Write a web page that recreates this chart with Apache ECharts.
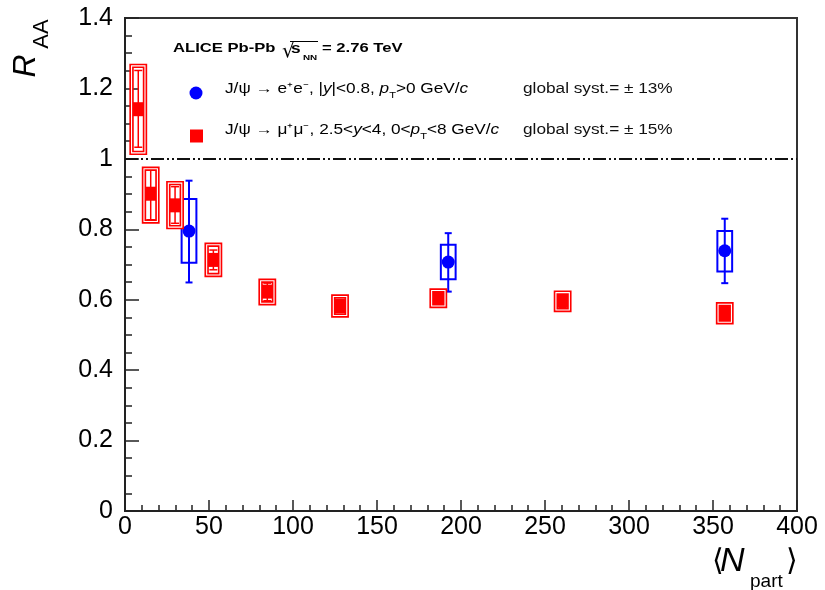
<!DOCTYPE html>
<html><head><meta charset="utf-8">
<script src="https://cdn.jsdelivr.net/npm/echarts@6/dist/echarts.min.js"></script>
<style>html,body{margin:0;padding:0;background:#fff}#c{width:825px;height:590px}</style>
</head><body><div id="c"></div>
<script>
// J/psi -> mu+mu- (forward rapidity)
const muNpart  = [7.9, 15.3, 29.8, 52.6, 84.7, 128.0, 186.5, 260.5, 357.0];
const muRaa    = [1.141, 0.901, 0.868, 0.713, 0.623, 0.582, 0.604, 0.597, 0.562];
const muStatLo = [1.033, 0.827, 0.817, 0.685, 0.597, 0.566, 0.587, 0.578, 0.543];
const muStatHi = [1.251, 0.971, 0.921, 0.741, 0.647, 0.599, 0.621, 0.616, 0.581];
const muSysLo  = [1.017, 0.822, 0.806, 0.670, 0.590, 0.555, 0.582, 0.571, 0.536];
const muSysHi  = [1.264, 0.972, 0.931, 0.756, 0.654, 0.609, 0.626, 0.620, 0.587];
// J/psi -> e+e- (mid rapidity)
const eeNpart  = [38.1, 192.4, 357.0];
const eeRaa    = [0.795, 0.707, 0.739];
const eeStatLo = [0.649, 0.623, 0.647];
const eeStatHi = [0.938, 0.789, 0.830];
const eeSysLo  = [0.705, 0.658, 0.680];
const eeSysHi  = [0.886, 0.756, 0.795];
// axes
const xTicks = [0, 50, 100, 150, 200, 250, 300, 350, 400];
const yTicks = [0, 0.2, 0.4, 0.6, 0.8, 1, 1.2, 1.4];
const refLevel = 1;

const RED = '#ff0000', BLUE = '#0000ff';
const FONT = '"Liberation Sans", Arial, Helvetica, sans-serif';
const SX = 1.23; // legend text is rendered wide in the reference

function zip(...arrs){ return arrs[0].map((_, i) => arrs.map(a => a[i])); }

function sysBox(color, halfW, dbl){
  return function(params, api){
    const x = api.value(0), lo = api.value(1), hi = api.value(2);
    const p1 = api.coord([x - halfW, hi]), p2 = api.coord([x + halfW, lo]);
    const shape = {x: p1[0], y: p1[1], width: p2[0] - p1[0], height: p2[1] - p1[1]};
    if (dbl) {
      return {type: 'group', children: [
        {type: 'rect', shape: shape, style: {fill: 'none', stroke: color, lineWidth: 4.4}},
        {type: 'rect', shape: shape, style: {fill: 'none', stroke: '#fff', lineWidth: 1.1}}
      ]};
    }
    return {type: 'rect', shape: shape, style: {fill: 'none', stroke: color, lineWidth: 2}};
  };
}
function statBar(color, capHalf, lw){
  return function(params, api){
    const x = api.value(0);
    const t = api.coord([x, api.value(2)]), b = api.coord([x, api.value(1)]);
    const st = {stroke: color, lineWidth: lw};
    return {type: 'group', children: [
      {type: 'line', shape: {x1: t[0], y1: t[1], x2: b[0], y2: b[1]}, style: st},
      {type: 'line', shape: {x1: t[0] - capHalf, y1: t[1], x2: t[0] + capHalf, y2: t[1]}, style: st},
      {type: 'line', shape: {x1: b[0] - capHalf, y1: b[1], x2: b[0] + capHalf, y2: b[1]}, style: st}
    ]};
  };
}

const chart = echarts.init(document.getElementById('c'), null, {renderer: 'canvas'});
const txt = (x, y, text, size, extra, sx) => ({
  type: 'text', x: x, y: y, scaleX: sx || 1,
  style: Object.assign({text: text, fontSize: size, fontFamily: FONT, fill: '#000',
    textAlign: 'left', textVerticalAlign: 'middle'}, extra || {})
});
const legendRich = {
  t: {fontSize: 14, fontFamily: FONT, lineHeight: 22, verticalAlign: 'middle', color: '#111'},
  i: {fontSize: 14, fontFamily: FONT, fontStyle: 'italic', lineHeight: 22, verticalAlign: 'middle', color: '#111'},
  s: {fontSize: 9, fontFamily: FONT, lineHeight: 9, verticalAlign: 'bottom', color: '#111'}
};

chart.setOption({
  animation: false,
  backgroundColor: '#fff',
  grid: {left: 125, right: 28, top: 18, bottom: 79, show: true, borderColor: '#333', borderWidth: 2, backgroundColor: 'transparent'},
  xAxis: {
    type: 'value', min: xTicks[0], max: xTicks[xTicks.length - 1], interval: xTicks[1] - xTicks[0],
    axisLine: {show: true, onZero: false, lineStyle: {color: '#222', width: 2}},
    axisTick: {show: true, inside: true, length: 11, lineStyle: {color: '#222', width: 1.5}},
    minorTick: {show: true, splitNumber: 5, length: 6, lineStyle: {color: '#222', width: 1.5}},
    splitLine: {show: false},
    axisLabel: {fontSize: 25, fontFamily: FONT, color: '#000', margin: 4}
  },
  yAxis: {
    type: 'value', min: yTicks[0], max: yTicks[yTicks.length - 1], interval: yTicks[1] - yTicks[0],
    axisLine: {show: true, onZero: false, lineStyle: {color: '#222', width: 2}},
    axisTick: {show: true, inside: true, length: 14, lineStyle: {color: '#222', width: 1.5}},
    minorTick: {show: true, splitNumber: 4, length: 7, lineStyle: {color: '#222', width: 1.5}},
    splitLine: {show: false},
    axisLabel: {fontSize: 25, fontFamily: FONT, color: '#000', margin: 12,
      formatter: v => String(+v.toFixed(1))}
  },
  series: [
    {type: 'custom', name: 'eeSys', renderItem: sysBox(BLUE, 4.4, false), data: zip(eeNpart, eeSysLo, eeSysHi), z: 3, silent: true},
    {type: 'custom', name: 'eeStat', renderItem: statBar(BLUE, 3.5, 2), data: zip(eeNpart, eeStatLo, eeStatHi), z: 3, silent: true},
    {type: 'scatter', name: 'ee', symbol: 'circle', symbolSize: 13, itemStyle: {color: BLUE, opacity: 1},
      data: zip(eeNpart, eeRaa), z: 4,
      markLine: {silent: true, symbol: 'none', label: {show: false},
        lineStyle: {color: '#111', width: 2, type: [13, 3, 2, 3, 2, 3]},
        data: [{yAxis: refLevel}]}},
    {type: 'custom', name: 'muStat', renderItem: statBar(RED, 4, 1.5), data: zip(muNpart, muStatLo, muStatHi), z: 3, silent: true},
    {type: 'scatter', name: 'mu', symbol: 'rect', symbolSize: 14, itemStyle: {color: RED, opacity: 1},
      data: zip(muNpart, muRaa), z: 4},
    {type: 'custom', name: 'muSys', renderItem: sysBox(RED, 4.0, true), data: zip(muNpart, muSysLo, muSysHi), z: 5, silent: true}
  ],
  graphic: [
    // y title R_AA (rotated)
    {type: 'text', x: 26, y: 66, rotation: Math.PI / 2,
      style: {text: 'R', fontSize: 32, fontStyle: 'italic', fontFamily: FONT, fill: '#000', textAlign: 'center', textVerticalAlign: 'middle'}},
    {type: 'text', x: 42, y: 34, rotation: Math.PI / 2,
      style: {text: 'AA', fontSize: 22, fontFamily: FONT, fill: '#000', textAlign: 'center', textVerticalAlign: 'middle'}},
    // x title <N_part>
    txt(712, 562, '⟨', 30),
    txt(720, 562, 'N', 34, {fontStyle: 'italic'}),
    txt(750, 582, 'part', 19),
    txt(786, 562, '⟩', 30),
    // header
    txt(173, 48, 'ALICE Pb-Pb', 13.5, {fontWeight: 'bold'}, SX),
    txt(282, 52, '√', 20, {fontFamily: '"DejaVu Sans", sans-serif'}),
    {type: 'line', shape: {x1: 290, y1: 41.5, x2: 318, y2: 41.5}, style: {stroke: '#000', lineWidth: 1}},
    txt(291, 49, 's', 14, {fontWeight: 'bold'}, SX),
    txt(303, 58, 'NN', 8, {fontWeight: 'bold'}, SX),
    txt(322, 48, '= 2.76 TeV', 13.5, {fontWeight: 'bold'}, SX),
    // legend entries
    {type: 'circle', shape: {cx: 196, cy: 93, r: 6.5}, style: {fill: BLUE}},
    {type: 'rect', shape: {x: 190, y: 129.5, width: 13, height: 13}, style: {fill: RED}},
    {type: 'text', x: 225, y: 89, scaleX: SX, style: {rich: legendRich, textVerticalAlign: 'middle',
      text: '{t|J/ψ → e⁺e⁻, |}{i|y}{t||<0.8, }{i|p}{s|T}{t|>0 GeV/}{i|c}'}},
    {type: 'text', x: 225, y: 130, scaleX: SX, style: {rich: legendRich, textVerticalAlign: 'middle',
      text: '{t|J/ψ → μ⁺μ⁻, 2.5<}{i|y}{t|<4, 0<}{i|p}{s|T}{t|<8 GeV/}{i|c}'}},
    txt(523, 89, 'global syst.= ± 13%', 14, {fill: '#111'}, SX),
    txt(523, 130, 'global syst.= ± 15%', 14, {fill: '#111'}, SX)
  ]
});
</script></body></html>
